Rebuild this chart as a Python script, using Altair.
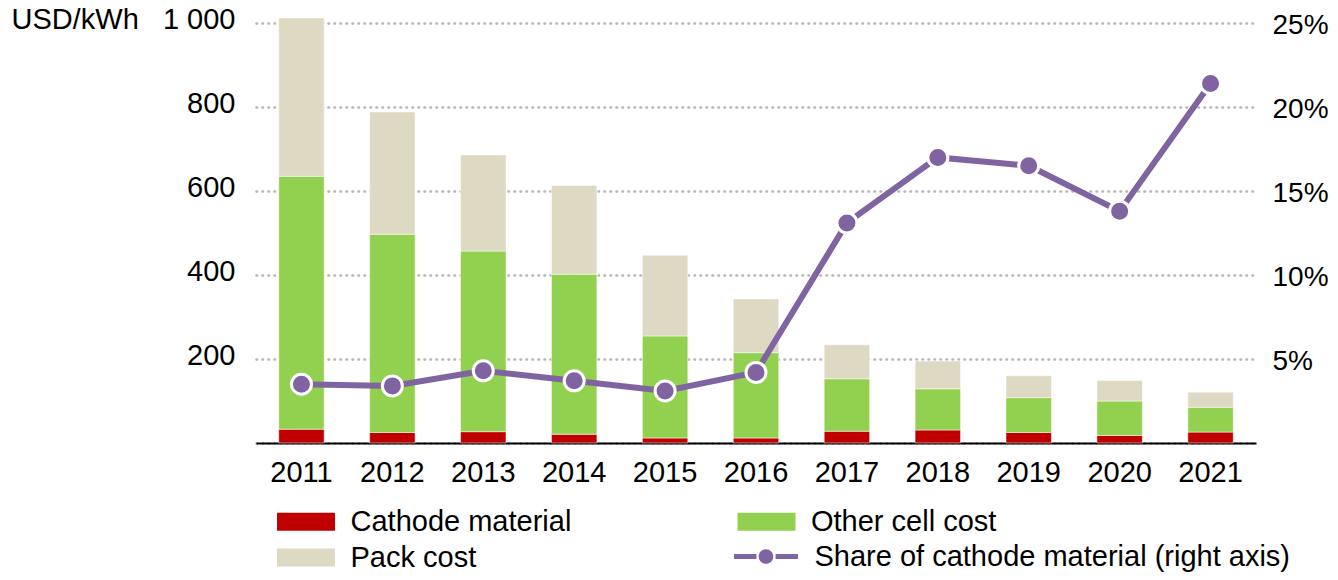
import altair as alt
import pandas as pd

years = ["2011", "2012", "2013", "2014", "2015", "2016", "2017", "2018", "2019", "2020", "2021"]
cathode = [33, 25, 27, 21, 12, 12, 28, 31, 25, 18, 26]
other_cell = [602, 472, 430, 381, 243, 203, 125, 98, 83, 82, 59]
pack = [377, 291, 229, 211, 192, 128, 81, 66, 52, 49, 36]
share = [3.5, 3.4, 4.3, 3.7, 3.1, 4.2, 13.1, 17.0, 16.5, 13.8, 21.4]

components = ["Cathode material", "Other cell cost", "Pack cost"]
comp_colors = ["#C00000", "#92D050", "#DDD9C3"]
line_name = "Share of cathode material (right axis)"
purple = "#8064A2"
FONT = "Liberation Sans"
FS = 29

rows = []
for i, y in enumerate(years):
    for k, (name, vals) in enumerate(zip(components, [cathode, other_cell, pack])):
        rows.append({"year": y, "component": name, "value": vals[i], "order": k})
bars_df = pd.DataFrame(rows)
line_df = pd.DataFrame({"year": years, "share": [s / 100 for s in share], "series": line_name})

rect_path = "M-3.22,-1 L3.22,-1 L3.22,1 L-3.22,1 Z"
line_sym = ("M-4.35,-0.34 L-1.3,-0.34 L-1.3,0.34 L-4.35,0.34 Z "
            "M1.3,-0.34 L4.35,-0.34 L4.35,0.34 L1.3,0.34 Z "
            "M-1,0 A1,1 0 1,1 1,0 A1,1 0 1,1 -1,0 Z")

x_enc = alt.X("year:O", title=None,
              scale=alt.Scale(paddingInner=0.5, paddingOuter=0.25),
              axis=alt.Axis(labelAngle=0, ticks=False, domainColor="black", domainWidth=2,
                            labelPadding=15, labelFontSize=FS, labelFont=FONT, labelColor="black",
                            grid=False))

bars = alt.Chart(bars_df).mark_bar(stroke="white", strokeWidth=1, strokeOpacity=0.5).encode(
    x=x_enc,
    y=alt.Y("value:Q", stack="zero",
            scale=alt.Scale(domain=[0, 1000], nice=False),
            axis=alt.Axis(orient="left", values=[0, 200, 400, 600, 800, 1000],
                          labelExpr="datum.value == 0 ? '' : replace(format(datum.value, ','), ',', ' ')",
                          domain=False, ticks=False, labelPadding=21, labelFontSize=FS, labelFont=FONT,
                          labelColor="black", labelOffset=-4,
                          grid=True, gridColor="#B5B5B5", gridDash=[0.5, 5.5], gridCap="round", gridWidth=2.6,
                          title="USD/kWh", titleAngle=0, titleAlign="left", titleBaseline="middle",
                          titleX=-245, titleY=-4, titleFontSize=FS, titleFont=FONT,
                          titleFontWeight="normal", titleColor="black")),
    color=alt.Color("component:N", scale=alt.Scale(domain=components, range=comp_colors),
                    legend=alt.Legend(title=None, orient="none", legendX=35.5, legendY=484, columns=2,
                                      direction="horizontal",
                                      symbolType=rect_path, symbolSize=324, symbolStrokeWidth=0,
                                      labelOffset=30, columnPadding=165.5, rowPadding=6,
                                      labelFontSize=FS, labelFont=FONT, labelColor="black",
                                      labelLimit=1000, padding=0)),
    order=alt.Order("order:Q", sort="ascending"),
)

y_right = alt.Y("share:Q", scale=alt.Scale(domain=[0, 0.25], nice=False),
                axis=alt.Axis(orient="right", values=[0, 0.05, 0.1, 0.15, 0.2, 0.25], format=".0%",
                              labelExpr="datum.value == 0 ? '' : datum.label",
                              domain=False, ticks=False, grid=False, labelPadding=16,
                              labelFontSize=28, labelFont=FONT, labelColor="black", labelOffset=2,
                              title=None))

line = alt.Chart(line_df).mark_line(color=purple, strokeWidth=6).encode(x=alt.X("year:O"), y=y_right)
points = alt.Chart(line_df).mark_point(filled=True, size=400, stroke="white", strokeWidth=3,
                                       opacity=1, fillOpacity=1).encode(
    x=alt.X("year:O"), y=y_right,
    color=alt.Color("series:N", scale=alt.Scale(domain=[line_name], range=[purple]),
                    legend=alt.Legend(title=None, orient="none", legendX=495.5, legendY=519,
                                      symbolType=line_sym, symbolSize=216, symbolStrokeWidth=0,
                                      labelOffset=34, labelFontSize=FS, labelFont=FONT,
                                      labelColor="black", labelLimit=1000, padding=0)),
)

right = alt.layer(line, points)

chart = alt.layer(bars, right).resolve_scale(y="independent", color="independent").properties(
    width=1000, height=420,
    autosize=alt.AutoSizeParams(type="none"),
    padding={"left": 248, "top": 15, "right": 74, "bottom": 129},
).configure(font=FONT).configure_view(strokeWidth=0, stroke="transparent")

chart.save("out.html", embed_options={"renderer": "svg", "actions": False})
